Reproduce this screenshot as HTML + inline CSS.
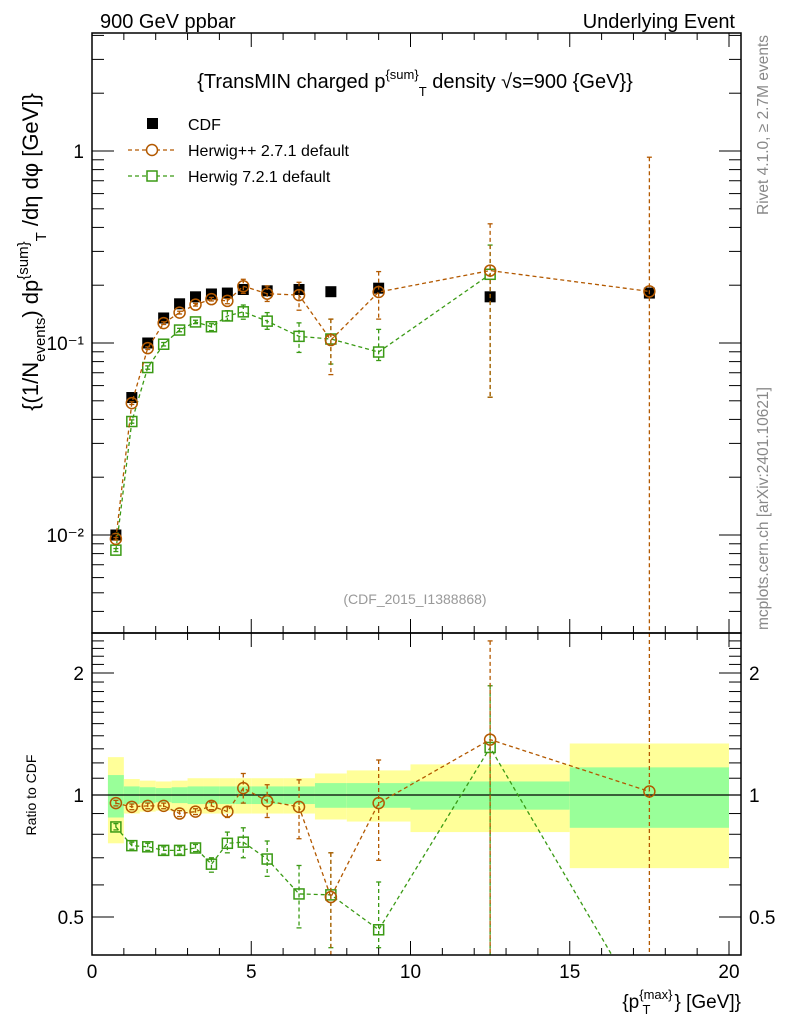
<!DOCTYPE html>
<html><head><meta charset="utf-8"><style>
body{margin:0;background:#fff;}
svg{display:block;font-family:"Liberation Sans",sans-serif;}
</style></head><body>
<svg id="fig" width="786" height="1024" viewBox="0 0 786 1024" xmlns="http://www.w3.org/2000/svg">
<g id="bands"></g>
<g id="marks"></g>
<g id="axes"></g>
<text x="100" y="28" font-size="20">900 GeV ppbar</text>
<text x="735" y="28" font-size="20" text-anchor="end">Underlying Event</text>
<text x="415" y="88" font-size="20" text-anchor="middle">{TransMIN charged p<tspan dy="-9" font-size="13">{sum</tspan><tspan dy="0" font-size="13">}</tspan><tspan dy="17" font-size="13">T</tspan><tspan dy="-8"> density √s=900 {GeV}}</tspan></text>
<g>
<rect x="147" y="118" width="11" height="11" fill="#000"/>
<text x="188" y="130" font-size="16">CDF</text>
<line x1="128" y1="150" x2="177" y2="150" stroke="#b35900" stroke-width="1.3" stroke-dasharray="4,3"/>
<circle cx="152" cy="150" r="5.5" fill="#fff" stroke="#b35900" stroke-width="1.5"/>
<text x="188" y="156" font-size="16">Herwig++ 2.7.1 default</text>
<line x1="128" y1="176" x2="177" y2="176" stroke="#3a9a14" stroke-width="1.3" stroke-dasharray="4,3"/>
<rect x="147" y="171" width="10" height="10" fill="#fff" stroke="#3a9a14" stroke-width="1.5"/>
<text x="188" y="182" font-size="16">Herwig 7.2.1 default</text>
</g>
<text x="415" y="604" font-size="14" fill="#999" text-anchor="middle">(CDF_2015_I1388868)</text>
<text transform="translate(38,252) rotate(-90)" font-size="22" text-anchor="middle">{(1/N<tspan dy="7" font-size="15">events</tspan><tspan dy="-7">) dp</tspan><tspan dy="-10" font-size="15">{sum</tspan><tspan font-size="15">}</tspan><tspan dy="18" font-size="15">T</tspan><tspan dy="-8"> /dη  dφ [GeV]}</tspan></text>
<text transform="translate(36,795) rotate(-90)" font-size="14" text-anchor="middle">Ratio to CDF</text>
<text x="741" y="1008" font-size="19" text-anchor="end">{p<tspan dy="-9" font-size="13">{max}</tspan><tspan dx="-30" dy="15" font-size="13">T</tspan><tspan dx="24" dy="-6">} [GeV]}</tspan></text>
<text transform="translate(768,35) rotate(-90)" font-size="15.5" fill="#888" text-anchor="end">Rivet 4.1.0, ≥ 2.7M events</text>
<text transform="translate(768,630) rotate(-90)" font-size="15.5" fill="#888" text-anchor="start">mcplots.cern.ch [arXiv:2401.10621]</text>
</svg>
<script>
const xCenters=[0.75,1.25,1.75,2.25,2.75,3.25,3.75,4.25,4.75,5.5,6.5,7.5,9,12.5,17.5];
const cdfValues=[0.010,0.052,0.100,0.135,0.160,0.174,0.180,0.182,0.190,0.187,0.190,0.185,0.193,0.174,0.182];
const hppRatio=[0.955,0.935,0.94,0.94,0.90,0.91,0.94,0.91,1.04,0.966,0.935,0.56,0.955,1.37,1.02];
const hppRatioHi=[0.97,0.95,0.955,0.955,0.915,0.925,0.96,0.935,1.13,1.06,1.09,0.72,1.22,2.4,5.1];
const hppRatioLo=[0.94,0.92,0.925,0.925,0.885,0.895,0.92,0.88,0.955,0.88,0.78,0.37,0.69,0.3,0.01];
const h7Ratio=[0.834,0.75,0.745,0.73,0.73,0.74,0.675,0.76,0.765,0.695,0.57,0.567,0.465,1.31,0.28];
const h7RatioHi=[0.85,0.765,0.76,0.745,0.745,0.755,0.70,0.81,0.83,0.77,0.67,0.72,0.61,1.86,0.3];
const h7RatioLo=[0.82,0.735,0.73,0.715,0.715,0.725,0.645,0.72,0.70,0.63,0.47,0.42,0.42,0.3,0.26];
const h7ShowMain=[1,1,1,1,1,1,1,1,1,1,1,1,1,1,0];
const binEdges=[0.5,1,1.5,2,2.5,3,3.5,4,4.5,5,6,7,8,10,15,20];
const bandYellowHi=[1.24,1.095,1.085,1.08,1.085,1.10,1.10,1.10,1.10,1.10,1.10,1.13,1.15,1.19,1.34];
const bandYellowLo=[0.76,0.90,0.91,0.915,0.91,0.90,0.90,0.90,0.90,0.90,0.90,0.87,0.86,0.81,0.66];
const bandGreenHi=[1.12,1.05,1.045,1.04,1.045,1.05,1.05,1.05,1.05,1.05,1.05,1.07,1.07,1.08,1.17];
const bandGreenLo=[0.88,0.95,0.955,0.96,0.955,0.95,0.95,0.95,0.95,0.95,0.95,0.93,0.93,0.92,0.83];
const xTicks=[0,5,10,15,20];
const mainTicks=[[1,"1"],[0.1,"10\u207B\u00B9"],[0.01,"10\u207B\u00B2"]];
const ratioTicks=[[0.5,"0.5"],[1,"1"],[2,"2"]];

const NS="http://www.w3.org/2000/svg";
const L=92,R=741,T=33,MB=633,RB=955;
const X=v=>L+v*31.85;
const YM=v=>151-192*Math.log10(v);
const YR=v=>795-122*Math.log2(v);
function mk(p,tag,at){const e=document.createElementNS(NS,tag);for(const k in at)e.setAttribute(k,at[k]);p.appendChild(e);return e;}
const bands=document.getElementById('bands'),marks=document.getElementById('marks'),axes=document.getElementById('axes');
const cl=v=>Math.min(Math.max(v,T),MB), clr=v=>Math.min(Math.max(v,MB),RB);

for(let i=0;i<bandYellowHi.length;i++){
 const x1=X(binEdges[i]),x2=X(binEdges[i+1]);
 let e=mk(bands,'rect',{x:x1,y:YR(bandYellowHi[i]),width:x2-x1,height:YR(bandYellowLo[i])-YR(bandYellowHi[i]),fill:'#ffff99'});
 
 
 e=mk(bands,'rect',{x:x1,y:YR(bandGreenHi[i]),width:x2-x1,height:YR(bandGreenLo[i])-YR(bandGreenHi[i]),fill:'#99ff99'});
 
 
}
let ref=mk(bands,'line',{x1:L,x2:R,y1:YR(1),y2:YR(1),stroke:'#000','stroke-width':1.3});



function series(name,col,ratio,hi,lo,shape,showMain){
 const g=mk(marks,'g',{});
 
 
 let pts=[],rpts=[];
 xCenters.forEach((x,i)=>{ if(!showMain||showMain[i]) pts.push(X(x)+','+YM(cdfValues[i]*ratio[i])); rpts.push(X(x)+','+YR(ratio[i]));});
 let pl=mk(g,'polyline',{points:pts.join(' '),fill:'none',stroke:col,'stroke-width':1.3,'stroke-dasharray':'4,3'});
 
 
 const cp=mk(g,'clipPath',{id:'rc'+name});mk(cp,'rect',{x:L,y:MB,width:R-L,height:RB-MB});
 pl=mk(g,'polyline',{points:rpts.join(' '),fill:'none',stroke:col,'stroke-width':1.3,'stroke-dasharray':'4,3','clip-path':'url(#rc'+name+')'});
 
 
 xCenters.forEach((x,i)=>{
  const cx=X(x);
  const draw=(yc,yh,yl,clip,tag)=>{
   const lo0=clip===cl?T:MB, hi0=clip===cl?MB:RB;
   mk(g,'line',{x1:cx,x2:cx,y1:clip(yh),y2:clip(yl),stroke:col,'stroke-width':1.3,'stroke-dasharray':'4,3'});
   [yh,yl].forEach(y=>{if(y>=lo0&&y<=hi0)mk(g,'line',{x1:cx-2.5,x2:cx+2.5,y1:y,y2:y,stroke:col,'stroke-width':1.3});});
   if(yc<lo0||yc>hi0)return;
   let m;
   if(shape==='c') m=mk(g,'circle',{cx:cx,cy:yc,r:5.5,fill:'none',stroke:col,'stroke-width':1.5});
   else m=mk(g,'rect',{x:cx-5,y:yc-5,width:10,height:10,fill:'none',stroke:col,'stroke-width':1.5});
   
   
  };
  if(!showMain||showMain[i]) draw(YM(cdfValues[i]*ratio[i]),YM(cdfValues[i]*hi[i]),YM(cdfValues[i]*lo[i]),cl,'main');
  draw(YR(ratio[i]),YR(hi[i]),YR(lo[i]),clr,'ratio');
 });
}
xCenters.forEach((x,i)=>{
 const r=mk(marks,'rect',{x:X(x)-5.5,y:YM(cdfValues[i])-5.5,width:11,height:11,fill:'#000'});
 
 
});
series('herwig7','#3a9a14',h7Ratio,h7RatioHi,h7RatioLo,'s',h7ShowMain);
series('herwigpp','#b35900',hppRatio,hppRatioHi,hppRatioLo,'c',null);

[[T,MB],[MB,RB]].forEach(([t,b],k)=>{
 const f=mk(axes,'rect',{x:L,y:t,width:R-L,height:b-t,fill:'none',stroke:'#000','stroke-width':1.5});
 
 
 for(let v=0;v<=20.01;v+=1){
  const x=X(v),len=(v%5===0)?14:7;
  mk(axes,'line',{x1:x,x2:x,y1:b,y2:b-len,stroke:'#000','stroke-width':1});
  mk(axes,'line',{x1:x,x2:x,y1:t,y2:t+len,stroke:'#000','stroke-width':1});
 }
});
xTicks.forEach(v=>{const t=mk(axes,'text',{x:X(v),y:978,'font-size':19,'text-anchor':'middle'});t.textContent=v;
 
 });
for(let d=-3;d<=0;d++)for(let m=1;m<=9;m++){
 const v=m*Math.pow(10,d),y=YM(v); if(y<T||y>MB)continue;
 const len=m===1?22:12;
 mk(axes,'line',{x1:L,x2:L+len,y1:y,y2:y,stroke:'#000','stroke-width':1});
 mk(axes,'line',{x1:R,x2:R-len,y1:y,y2:y,stroke:'#000','stroke-width':1});
}
mainTicks.forEach(([v,s])=>{const t=mk(axes,'text',{x:L-8,y:YM(v)+7,'font-size':19,'text-anchor':'end'});t.textContent=s;
 
 });
for(let v=0.4;v<=2.5;v+=0.1){const y=YR(v);if(y<MB||y>RB)continue;
 const maj=Math.abs(v-0.5)<1e-6||Math.abs(v-1)<1e-6||Math.abs(v-2)<1e-6;const len=maj?22:12;
 mk(axes,'line',{x1:L,x2:L+len,y1:y,y2:y,stroke:'#000','stroke-width':1});
 mk(axes,'line',{x1:R,x2:R-len,y1:y,y2:y,stroke:'#000','stroke-width':1});}
ratioTicks.forEach(([v,s])=>{
 let t=mk(axes,'text',{x:L-8,y:YR(v)+7,'font-size':19,'text-anchor':'end'});t.textContent=s;
 
 
 t=mk(axes,'text',{x:R+8,y:YR(v)+7,'font-size':19,'text-anchor':'start'});t.textContent=s;
 
 });
</script>
</body></html>
